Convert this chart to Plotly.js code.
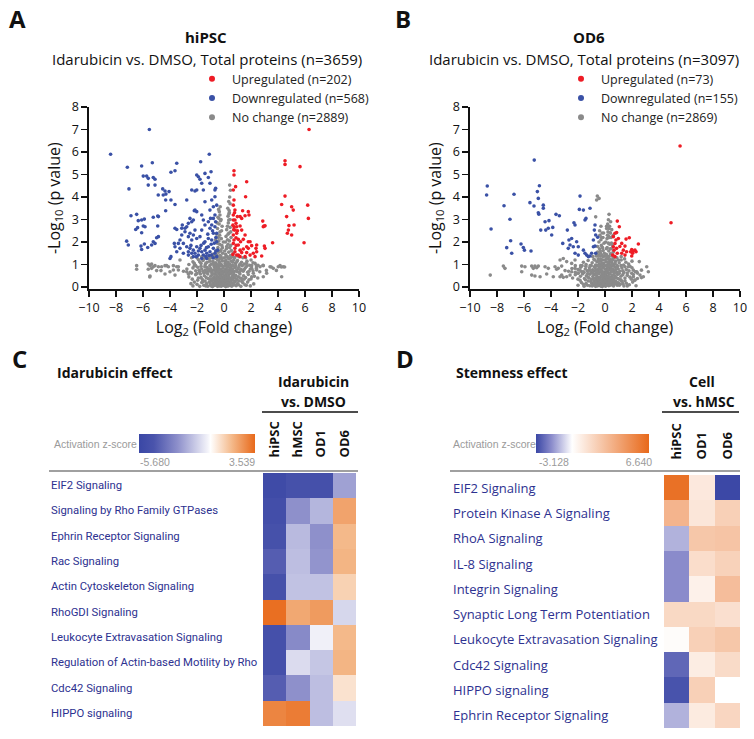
<!DOCTYPE html>
<html><head><meta charset="utf-8">
<script src="https://cdn.plot.ly/plotly-3.0.1.min.js"></script>
<style>html,body{margin:0;padding:0;background:#fff}#chart{width:754px;height:739px}</style>
</head><body><div id="chart"></div>
<script>
// ---------- Panel A: hiPSC volcano (log2 FC, -log10 p) ----------
const aUp = [[6.3,7.0],[4.52,5.61],[4.52,5.45],[5.63,5.35],[0.74,5.17],[0.74,4.98],[1.68,4.68],[0.86,4.46],[0.69,4.31],[1.6,4.01],[4.52,4.04],[4.27,3.67],[5.01,3.57],[5.13,3.42],[6.2,3.64],[6.25,3.05],[4.64,3.13],[5.19,2.76],[4.81,2.73],[4.77,2.53],[4.69,2.39],[5.01,2.31],[5.93,1.97],[2.87,2.93],[3.04,2.72],[2.91,2.68],[2.96,2.71],[3.6,1.97],[2.79,1.38],[2.42,1.87],[2.37,1.72],[2.99,1.82],[3.04,1.72],
[1.38,3.39],[1.8,3.35],[1.85,3.2],[1.56,3.17],[1.19,3.13],[1.31,3.05],[0.81,3.42],[0.69,3.2],[0.81,2.98],[1.19,2.71],[1.31,2.53],[0.94,2.39],[0.89,2.19],[1.06,2.12],[1.43,2.12],[1.8,2.01],[1.93,2.01],[2.05,1.84],[1.68,1.79],[1.43,1.69],[1.19,1.64],[0.81,1.57],[0.94,1.42],[1.31,1.53],[1.56,1.35],[1.93,1.42],[2.17,1.5],[2.3,1.35],[0.81,1.72],[0.69,1.94],[1.06,1.87],[0.81,2.53],[0.69,2.31],[0.74,2.09],[0.74,2.68],[0.89,2.83],[0.69,2.98],[0.99,3.13],[0.69,3.64],[0.74,3.87],[1.06,1.42],[1.19,1.35],[1.68,1.53],[1.23,2.01],[1.56,2.31],[0.94,2.68],[1.8,1.72],[2.42,1.57],[0.66,1.45],[0.72,2.55],[0.9,1.85],[0.66,2.75],[1.0,2.5],[0.78,3.3]];
const aDown = [[-8.4,5.9],[-5.53,7.0],[-7.16,5.32],[-6.1,5.38],[-5.31,5.52],[-5.73,4.93],[-5.61,4.83],[-5.98,4.93],[-5.24,4.87],[-5.11,4.79],[-5.61,4.53],[-5.11,4.53],[-3.5,5.5],[-3.63,5.17],[-3.93,5.1],[-7.04,4.36],[-4.54,4.36],[-4.37,4.27],[-4.07,4.24],[-4.3,4.13],[-4.87,4.09],[-4.5,4.09],[-3.93,3.87],[-4.32,3.87],[-3.63,3.67],[-4.32,3.39],[-4.91,3.16],[-5.24,3.1],
[-6.89,3.17],[-6.47,3.23],[-6.35,2.95],[-6.1,2.98],[-5.9,3.02],[-6.4,2.64],[-5.98,2.71],[-5.85,2.68],[-6.54,2.56],[-6.1,2.41],[-7.21,2.04],[-7.09,1.87],[-6.15,1.82],[-5.9,1.91],[-6.1,1.67],[-5.65,1.76],[-5.36,1.87],[-5.24,2.01],[-4.99,2.19],[-4.86,2.24],[-5.11,1.94],[-4.86,3.13],[-4.91,2.71],[-3.63,2.61],[-3.5,2.56],[-3.68,1.94],[-3.63,1.79],[-3.93,1.35],[-4.0,1.27],
[-3.13,2.61],[-3.09,2.76],[-2.89,2.61],[-2.76,3.87],[-2.39,4.31],[-2.15,4.27],[-2.02,4.31],[-2.2,3.39],[-2.02,3.35],[-2.52,3.05],[-2.27,2.98],[-2.39,2.9],[-2.64,2.83],[-2.76,2.68],[-2.89,2.46],[-2.52,2.39],[-2.64,2.24],[-2.27,2.31],[-2.15,2.53],[-2.39,2.09],[-2.02,2.16],[-1.78,2.24],[-3.13,2.31],[-3.26,2.09],[-3.01,1.94],[-2.76,1.79],[-2.52,1.72],[-2.27,1.64],[-2.15,1.5],[-1.9,1.42],[-2.39,1.5],[-2.64,1.57],[-2.02,1.79],[-1.78,1.72],[-1.65,1.57],[-1.53,1.42],[-1.41,1.64],[-1.28,1.5],[-1.16,1.79],[-1.04,1.57],[-0.91,1.42],[-0.79,1.72],[-0.67,1.5],[-1.41,2.01],[-1.16,2.16],[-0.91,2.09],[-0.79,2.39],[-1.04,2.61],[-0.91,2.76],[-0.67,2.68],[-1.16,2.9],[-0.79,3.05],[-0.67,3.2],[-1.04,3.42],[-0.79,3.57],[-0.54,3.64],[-0.91,3.87],[-0.67,4.01],[-0.67,4.31],[-0.62,4.39],[-1.04,4.61],[-1.9,4.9],[-1.78,4.79],[-1.65,4.61],[-2.02,4.98],[-1.41,5.05],[-0.96,5.12],[-1.16,4.87],[-1.73,5.57],[-1.09,5.9],[-1.53,4.31],[-1.41,3.79],[-2.15,3.42],[-1.65,3.2],[-1.53,2.98],[-1.41,2.76],[-1.65,2.53],[-0.54,2.39],[-0.54,2.01],[-0.47,1.64],[-0.54,1.35],[-1.65,1.27],[-1.28,1.27],[-2.27,1.35],[-2.64,1.42],[-3.01,1.5],[-3.5,1.57],[-3.26,1.72],[-3.38,1.94],
[-1.9,1.6],[-1.7,1.85],[-1.5,1.95],[-1.3,1.75],[-1.1,1.4],[-0.95,1.9],[-0.72,1.95],[-0.6,1.6],[-1.2,2.35],[-0.85,2.5],[-0.62,2.9],[-2.45,1.85],[-2.05,1.35],[-1.35,1.35],[-0.8,1.3],[-0.6,2.2],[-1.0,3.05]];
const aNoChange = [[-2.3,0.05],[-2.0,0.12],[-1.8,0.03],[-1.65,0.2],[-1.5,0.08],[-1.4,0.27],[-1.3,0.15],[-1.2,0.04],[-1.1,0.22],[-1.0,0.1],[-0.92,0.28],[-0.85,0.02],[-0.78,0.17],[-0.7,0.07],[-0.62,0.25],[-0.55,0.12],[-0.48,0.03],[-0.42,0.2],[-0.36,0.09],[-0.3,0.28],[-0.25,0.15],[-0.2,0.04],[-0.14,0.22],[-0.08,0.1],[-0.03,0.3],[0.02,0.06],[0.08,0.18],[0.13,0.02],[0.19,0.25],[0.25,0.11],[0.31,0.05],[0.37,0.2],[0.44,0.13],[0.5,0.28],[0.57,0.04],[0.64,0.17],[0.72,0.09],[0.8,0.24],[0.9,0.06],[1.0,0.15],[1.12,0.27],[1.25,0.03],[1.4,0.19],[1.55,0.1],[1.75,0.22],[1.95,0.05],[2.2,0.14],
[-2.6,0.45],[-2.35,0.35],[-2.1,0.55],[-1.9,0.4],[-1.75,0.58],[-1.6,0.33],[-1.45,0.5],[-1.32,0.42],[-1.2,0.58],[-1.08,0.36],[-0.98,0.48],[-0.88,0.55],[-0.8,0.38],[-0.72,0.45],[-0.64,0.57],[-0.57,0.34],[-0.5,0.5],[-0.43,0.42],[-0.37,0.6],[-0.3,0.36],[-0.24,0.52],[-0.17,0.44],[-0.1,0.58],[-0.04,0.38],[0.03,0.5],[0.1,0.33],[0.16,0.56],[0.22,0.45],[0.29,0.37],[0.36,0.54],[0.42,0.4],[0.49,0.6],[0.56,0.35],[0.63,0.48],[0.7,0.56],[0.78,0.4],[0.87,0.52],[0.96,0.34],[1.06,0.46],[1.18,0.58],[1.3,0.38],[1.45,0.5],[1.6,0.42],[1.8,0.56],[2.0,0.36],[2.25,0.48],[2.5,0.4],
[-3.0,0.7],[-2.75,0.8],[-2.5,0.65],[-2.3,0.85],[-2.1,0.72],[-1.95,0.88],[-1.8,0.68],[-1.65,0.8],[-1.5,0.62],[-1.38,0.76],[-1.25,0.87],[-1.12,0.7],[-1.0,0.82],[-0.9,0.64],[-0.8,0.75],[-0.7,0.88],[-0.62,0.67],[-0.54,0.8],[-0.46,0.72],[-0.38,0.86],[-0.3,0.63],[-0.22,0.78],[-0.15,0.7],[-0.07,0.85],[0.05,0.66],[0.12,0.8],[0.2,0.72],[0.27,0.88],[0.34,0.62],[0.41,0.76],[0.48,0.84],[0.55,0.68],[0.63,0.8],[0.72,0.65],[0.82,0.87],[0.92,0.73],[1.03,0.82],[1.15,0.64],[1.28,0.78],[1.42,0.7],[1.58,0.86],[1.75,0.66],[1.95,0.8],[2.15,0.72],[2.4,0.84],[2.65,0.68],
[-2.6,1.0],[-2.3,1.12],[-2.1,0.95],[-1.9,1.22],[-1.7,1.05],[-1.55,1.18],[-1.4,0.98],[-1.25,1.1],[-1.1,1.25],[-0.95,1.02],[-0.82,1.15],[-0.7,0.93],[-0.6,1.08],[-0.5,1.22],[-0.42,0.98],[-0.35,1.12],[-0.27,1.28],[-0.2,1.0],[-0.12,1.16],[0.08,1.05],[0.15,1.2],[0.22,0.95],[0.3,1.1],[0.38,1.25],[0.45,1.0],[0.53,1.15],[0.62,0.96],[0.72,1.2],[0.85,1.05],[1.0,1.18],[1.15,0.98],[1.3,1.1],[1.5,1.02],[1.7,1.15],[1.9,0.97],[2.15,1.08],[2.4,0.95],
[-1.0,1.32],[-0.85,1.45],[-0.7,1.38],[-0.6,1.6],[-0.52,1.42],[-0.45,1.75],[-0.4,1.55],[-0.33,1.9],[-0.28,1.4],[-0.22,1.65],[-0.16,1.85],[-0.1,1.5],[0.12,1.45],[0.18,1.7],[0.24,1.35],[0.3,1.9],[0.35,1.55],[0.42,1.75],[0.48,1.4],[0.55,1.62],[0.6,1.35],[0.68,1.5],[0.75,1.32],[1.1,1.35],[1.4,1.3],[-1.3,1.35],
[-0.62,2.1],[-0.55,2.35],[-0.48,2.6],[-0.42,2.2],[-0.36,2.8],[-0.3,2.45],[-0.25,2.95],[-0.2,2.15],[-0.14,2.7],[0.15,2.25],[0.2,2.55],[0.26,2.1],[0.32,2.85],[0.38,2.4],[0.45,2.65],[0.52,2.2],[0.35,2.98],
[-0.45,3.1],[-0.35,3.35],[-0.28,3.57],[-0.4,3.45],[0.3,3.15],[0.38,3.4],[0.45,3.7],[0.42,4.0],[0.48,4.3],[0.42,4.53],[0.36,3.25],
[-1.95,0.3],[-1.7,0.42],[-1.55,0.25],[-1.35,0.05],[-1.18,0.38],[-1.03,0.2],[-0.95,0.05],[-0.88,0.35],[-0.82,0.12],[-0.75,0.3],[-0.68,0.18],[-0.6,0.4],[-0.52,0.26],[-0.45,0.14],[-0.4,0.35],[-0.33,0.05],[-0.28,0.45],[-0.22,0.32],[-0.17,0.12],[-0.11,0.4],[-0.05,0.2],[0.0,0.42],[0.05,0.28],[0.1,0.12],[0.16,0.38],[0.22,0.05],[0.28,0.32],[0.34,0.44],[0.4,0.08],[0.46,0.36],[0.53,0.18],[0.6,0.42],[0.67,0.3],[0.75,0.12],[0.83,0.45],[0.95,0.3],[1.08,0.1],[1.2,0.4],[1.33,0.25],[1.48,0.35],[1.65,0.08],[1.85,0.32],[2.05,0.45],[-2.2,0.22],[-2.45,0.15],
[-2.4,0.62],[-2.2,0.95],[-2.0,0.6],[-1.85,0.75],[-1.7,0.92],[-1.55,0.7],[-1.42,0.9],[-1.3,0.65],[-1.18,0.78],[-1.05,0.95],[-0.95,0.72],[-0.85,0.6],[-0.75,0.95],[-0.66,0.78],[-0.58,0.92],[-0.5,0.66],[-0.42,0.9],[-0.34,0.75],[-0.26,0.95],[-0.18,0.62],[-0.1,0.92],[0.0,0.72],[0.08,0.95],[0.16,0.64],[0.24,0.9],[0.3,0.74],[0.38,0.98],[0.45,0.64],[0.52,0.92],[0.6,0.76],[0.68,0.94],[0.78,0.7],[0.88,0.95],[1.0,0.68],[1.1,0.88],[1.22,0.74],[1.35,0.95],[1.5,0.78],[1.68,0.92],[1.85,0.7],[2.05,0.95],
[-2.4,1.3],[-2.2,1.05],[-2.0,1.3],[-1.8,1.12],[-1.65,1.35],[-1.5,1.25],[-1.35,1.05],[-1.2,1.35],[-1.05,1.15],[-0.9,1.3],[-0.78,1.05],[-0.65,1.28],[-0.55,1.0],[-0.45,1.35],[-0.38,1.2],[-0.3,1.05],[-0.22,1.35],[-0.15,1.25],[0.02,1.3],[0.1,1.15],[0.2,1.35],[0.28,1.02],[0.35,1.28],[0.5,1.3],[0.65,1.1],[0.8,1.3],[0.95,1.12],[1.2,1.02],[1.6,1.3],[2.0,1.2],
[-0.5,1.95],[-0.38,2.05],[-0.32,2.3],[-0.25,1.6],[-0.18,2.5],[-0.12,1.75],[-0.05,2.0],[0.05,1.6],[0.1,2.0],[0.2,1.8],[0.25,2.7],[0.3,2.35],[0.4,2.05],[0.45,3.0],[0.5,1.85],[0.28,3.5],[0.35,3.8],[-0.3,3.2],[-0.22,3.0],[-0.5,2.85],[-0.38,3.05],[0.5,2.45],[0.4,3.3],
[-6.47,0.95],[-6.47,0.79],[-5.61,1.02],[-5.48,0.95],[-5.36,1.02],[-5.24,0.9],[-5.11,0.95],[-4.86,0.9],[-4.62,0.9],[-4.37,0.95],[-4.25,0.95],[-4.12,0.9],[-3.75,0.95],[-3.5,0.9],[-3.38,0.9],[-5.61,0.79],[-5.36,0.83],[-4.99,0.73],[-4.67,0.73],[-4.0,0.68],[-3.75,0.76],[-3.38,0.76],[-5.48,0.49],[-4.37,0.58],[-3.63,0.53],[-3.26,1.2],[-2.76,0.68],[-2.64,0.58],[-5.5,0.45],
[2.3,1.05],[2.67,0.9],[2.91,0.95],[2.42,0.76],[3.41,0.9],[4.02,0.9],[4.39,0.9],[4.27,0.46],[3.16,0.61],[3.65,0.83],[2.91,0.46],[2.05,0.83],[1.68,1.05],[4.15,0.95],[2.17,0.61],[2.52,0.97],[2.89,0.97],[3.14,0.74],[3.5,0.89],[3.88,0.74],[4.25,0.89],[4.49,0.89]];

// ---------- Panel B: OD6 volcano ----------
const bUp = [[5.56,6.27],[4.89,2.86],[0.91,2.93],[1.06,2.68],[0.74,2.39],[0.86,2.42],[0.62,2.24],[0.81,2.09],[0.99,2.16],[0.74,1.94],[0.62,1.79],[0.86,1.72],[0.67,1.64],[0.57,1.42],[0.74,1.35],[0.91,1.5],[1.56,2.13],[1.8,2.19],[1.24,1.94],[1.48,1.82],[1.36,1.64],[1.6,1.57],[1.24,1.5],[1.48,1.42],[2.47,1.91],[1.98,1.67],[2.1,1.6],[2.22,1.64],[2.05,1.5],[1.98,1.38],[2.3,1.57],[1.9,1.57],[1.1,1.8]];
const bDown = [[-5.24,5.64],[-8.72,4.49],[-8.77,4.09],[-4.86,4.5],[-5.01,4.24],[-4.94,3.94],[-5.56,3.75],[-5.26,3.6],[-4.57,3.64],[-4.57,3.5],[-6.74,4.12],[-7.48,3.61],[-7.04,3.01],[-8.44,2.58],[-4.94,3.3],[-4.9,3.24],[-3.63,3.23],[-3.38,3.17],[-4.15,2.95],[-4.44,2.9],[-4.76,2.53],[-4.39,2.53],[-3.87,2.65],[-3.95,2.31],[-4.2,2.61],[-2.79,2.53],[-6.99,2.06],[-7.28,1.75],[-6.91,1.5],[-6.22,1.91],[-6.05,1.76],[-5.97,1.64],[-5.48,1.6],[-3.13,1.94],[-2.67,2.09],[-2.47,2.16],[-2.59,1.87],[-2.35,1.79],[-2.72,1.72],[-2.1,2.01],[-1.98,1.79],[-2.3,2.86],[-2.22,2.76],[-1.9,3.45],[-1.6,3.42],[-1.11,3.5],[-1.85,4.04],[-1.41,3.05],[-1.48,2.98],[-0.74,2.76],[-0.79,2.53],[-0.69,2.31],[-0.54,2.21],[-0.86,1.79],[-0.74,1.82],[-0.86,2.09],[-1.6,1.64],[-1.48,1.5],[-1.36,1.42],[-1.11,1.38],[-1.23,1.35],[-0.99,1.5],[-2.22,1.5],[-1.98,1.42],[-0.69,1.5]];
const bNoChange = [[-2.0,0.08],[-1.75,0.2],[-1.55,0.04],[-1.4,0.15],[-1.25,0.27],[-1.12,0.06],[-1.0,0.18],[-0.9,0.1],[-0.8,0.25],[-0.7,0.03],[-0.62,0.14],[-0.55,0.22],[-0.47,0.07],[-0.4,0.3],[-0.33,0.12],[-0.27,0.2],[-0.2,0.02],[-0.14,0.26],[-0.08,0.09],[-0.02,0.17],[0.04,0.04],[0.1,0.28],[0.16,0.13],[0.22,0.21],[0.28,0.06],[0.34,0.16],[0.41,0.27],[0.48,0.1],[0.55,0.2],[0.63,0.05],[0.71,0.15],[0.8,0.25],[0.9,0.08],[1.0,0.19],[1.12,0.12],[1.25,0.26],[1.4,0.05],[1.58,0.17],[1.8,0.1],[2.05,0.22],[2.3,0.06],
[-2.4,0.4],[-2.2,0.55],[-2.0,0.35],[-1.82,0.48],[-1.66,0.58],[-1.52,0.38],[-1.38,0.5],[-1.25,0.44],[-1.12,0.57],[-1.0,0.34],[-0.9,0.47],[-0.8,0.56],[-0.7,0.39],[-0.62,0.5],[-0.54,0.43],[-0.46,0.59],[-0.38,0.35],[-0.3,0.48],[-0.23,0.55],[-0.16,0.4],[-0.09,0.52],[-0.02,0.44],[0.05,0.58],[0.12,0.36],[0.19,0.49],[0.26,0.42],[0.33,0.57],[0.4,0.33],[0.47,0.46],[0.55,0.53],[0.63,0.37],[0.72,0.5],[0.82,0.42],[0.93,0.56],[1.05,0.35],[1.18,0.48],[1.32,0.55],[1.48,0.4],[1.65,0.52],[1.85,0.44],[2.1,0.56],[2.4,0.38],[2.7,0.42],
[-2.7,0.7],[-2.45,0.82],[-2.2,0.66],[-2.0,0.78],[-1.8,0.88],[-1.62,0.68],[-1.46,0.8],[-1.3,0.72],[-1.16,0.86],[-1.03,0.64],[-0.92,0.77],[-0.82,0.7],[-0.72,0.85],[-0.63,0.62],[-0.55,0.74],[-0.46,0.82],[-0.38,0.66],[-0.3,0.8],[-0.22,0.72],[-0.14,0.88],[-0.06,0.65],[0.04,0.78],[0.11,0.7],[0.18,0.86],[0.25,0.63],[0.32,0.76],[0.4,0.84],[0.48,0.68],[0.56,0.8],[0.65,0.72],[0.75,0.88],[0.86,0.66],[0.98,0.8],[1.1,0.7],[1.25,0.85],[1.4,0.65],[1.58,0.78],[1.78,0.72],[2.0,0.86],[2.25,0.68],
[-1.8,0.95],[-1.6,1.1],[-1.4,1.0],[-1.25,1.18],[-1.1,0.96],[-0.95,1.08],[-0.82,1.22],[-0.7,0.98],[-0.6,1.12],[-0.5,1.26],[-0.42,1.02],[-0.34,1.15],[-0.26,0.94],[-0.18,1.2],[-0.1,1.05],[0.08,1.12],[0.15,0.97],[0.22,1.25],[0.29,1.06],[0.36,1.18],[0.43,0.95],[0.5,1.1],[0.58,1.22],[0.67,1.0],[0.78,1.15],[0.9,0.96],[1.05,1.08],[1.2,1.2],[1.38,0.98],[1.55,1.1],[1.75,1.02],[2.0,1.15],
[-0.65,1.38],[-0.55,1.55],[-0.47,1.42],[-0.4,1.7],[-0.33,1.5],[-0.27,1.85],[-0.2,1.4],[-0.14,1.62],[-0.07,1.95],[0.1,1.45],[0.16,1.75],[0.22,1.35],[0.28,1.6],[0.34,1.9],[0.4,1.48],[0.46,1.7],[0.52,1.38],[0.6,1.55],[0.7,1.35],[0.48,1.95],
[-0.3,2.1],[-0.22,2.4],[-0.15,2.2],[-0.38,2.3],[0.15,2.15],[0.22,2.45],[0.28,2.25],[0.34,2.7],[0.4,2.4],[0.12,2.6],[0.25,2.99],[0.37,2.41],[0.12,2.7],[0.3,3.23],[-0.69,3.12],[-0.57,4.04],[-0.44,3.94],[-0.62,3.87],[0.45,2.2],[0.5,2.55],
[-1.85,0.3],[-1.6,0.12],[-1.45,0.32],[-1.3,0.08],[-1.18,0.4],[-1.05,0.25],[-0.95,0.05],[-0.85,0.38],[-0.76,0.15],[-0.67,0.3],[-0.58,0.05],[-0.5,0.34],[-0.43,0.18],[-0.36,0.42],[-0.3,0.04],[-0.24,0.3],[-0.18,0.45],[-0.11,0.15],[-0.05,0.35],[0.01,0.25],[0.07,0.45],[0.13,0.08],[0.19,0.33],[0.25,0.45],[0.31,0.28],[0.37,0.08],[0.44,0.4],[0.51,0.25],[0.59,0.4],[0.67,0.26],[0.76,0.4],[0.85,0.2],[0.95,0.38],[1.06,0.08],[1.18,0.32],[1.32,0.15],[1.48,0.28],[1.65,0.05],[1.95,0.35],[2.2,0.3],
[-2.2,0.95],[-2.0,0.62],[-1.85,0.75],[-1.7,0.95],[-1.55,0.65],[-1.42,0.92],[-1.28,0.6],[-1.15,0.75],[-1.02,0.95],[-0.9,0.62],[-0.8,0.9],[-0.68,0.75],[-0.58,0.95],[-0.5,0.62],[-0.41,0.9],[-0.33,0.7],[-0.26,0.98],[-0.18,0.65],[-0.1,0.85],[-0.02,0.95],[0.06,0.62],[0.14,0.92],[0.21,0.76],[0.29,0.96],[0.36,0.6],[0.44,0.9],[0.52,0.74],[0.6,0.95],[0.7,0.62],[0.8,0.78],[0.92,0.9],[1.05,0.6],[1.18,0.95],[1.32,0.72],[1.48,0.9],[1.65,0.62],[1.85,0.92],[2.1,0.75],[2.4,0.62],[2.7,0.75],
[-0.9,1.35],[-0.75,1.2],[-0.6,1.4],[-0.48,1.15],[-0.38,1.38],[-0.3,1.25],[-0.22,1.05],[-0.12,1.35],[0.0,1.2],[0.05,1.4],[0.12,1.28],[0.2,1.1],[0.3,1.35],[0.4,1.22],[0.5,1.0],[0.62,1.3],[0.75,1.05],[0.88,1.3],[1.0,1.2],[1.2,1.35],[1.45,1.25],
[-0.55,1.8],[-0.45,2.0],[-0.35,1.6],[-0.25,2.2],[-0.18,1.75],[-0.1,2.4],[-0.05,1.5],[0.05,2.0],[0.1,1.7],[0.18,2.3],[0.25,1.95],[0.32,2.2],[0.38,1.7],[0.42,2.9],[0.3,2.6],[0.2,2.8],[-0.3,2.7],[-0.4,2.5],[0.55,1.85],[0.6,2.3],
[-7.53,0.93],[-7.41,0.83],[-8.5,0.53],[-6.17,0.93],[-5.93,0.9],[-5.43,0.93],[-5.19,0.93],[-4.94,0.93],[-5.31,0.83],[-5.06,0.86],[-4.44,0.9],[-4.2,0.83],[-3.7,0.9],[-3.58,0.79],[-6.17,0.68],[-5.19,0.49],[-4.81,0.46],[-5.43,0.53],[-4.32,0.58],[-3.83,0.46],[-3.33,0.46],[-3.21,0.53],[-3.09,0.43],[-2.84,0.46],[-2.59,0.53],[-3.46,0.83],[-3.21,0.93],[-2.96,0.73],[-2.47,0.68],[-2.22,0.83],[-1.98,0.61],[-1.73,0.68],[-2.47,1.05],[-3.33,1.2],[-3.09,1.27],[-2.84,1.13],[-2.22,1.2],
[3.09,0.9],[3.21,0.68],[2.84,0.46],[2.59,0.53],[2.35,0.68],[2.54,1.13],[2.1,0.46],[2.22,0.31],[1.98,0.61],[1.73,0.9]];

// ---------- Panel C: IPA activation z-scores, Idarubicin vs DMSO ----------
const cPathways = ['EIF2 Signaling','Signaling by Rho Family GTPases','Ephrin Receptor Signaling','Rac Signaling','Actin Cytoskeleton Signaling','RhoGDI Signaling','Leukocyte Extravasation Signaling','Regulation of Actin-based Motility by Rho','Cdc42 Signaling','HIPPO signaling'];
const cCells = ['hiPSC','hMSC','OD1','OD6'];
const cZ = [[-5.3,-4.8,-4.9,-2.2],[-5.0,-2.6,-1.7,2.2],[-4.8,-1.6,-2.6,1.7],[-4.2,-1.5,-2.5,1.8],[-4.8,-1.4,-1.4,1.1],[3.4,2.1,2.4,-0.9],[-4.9,-2.8,-0.3,1.7],[-4.9,-0.8,-1.3,1.8],[-4.2,-2.6,-1.5,0.7],[2.9,3.1,-1.5,-0.7]];
const cRange = [-5.680, 3.539];

// ---------- Panel D: IPA activation z-scores, cell vs hMSC ----------
const dPathways = ['EIF2 Signaling','Protein Kinase A Signaling','RhoA Signaling','IL-8 Signaling','Integrin Signaling','Synaptic Long Term Potentiation','Leukocyte Extravasation Signaling','Cdc42 Signaling','HIPPO signaling','Ephrin Receptor Signaling'];
const dCells = ['hiPSC','OD1','OD6'];
const dZ = [[6.3,1.0,-3.1],[3.3,1.1,2.1],[-1.2,2.5,2.6],[-1.8,1.5,2.0],[-1.8,0.6,2.9],[1.7,1.7,1.4],[0.15,2.1,2.5],[-2.5,0.8,1.6],[-2.9,2.1,null],[-1.2,0.9,1.8]];
const dRange = [-3.128, 6.640];

// ---------- helpers ----------
const W = 754, H = 739;
const px = v => v / W, py = v => 1 - v / H;
const F = 'Open Sans, Noto Sans, sans-serif';
const RED = '#ee1c25', BLUE = '#3a51a6', GRAY = '#8a8a8a';

function pts(arr, color, xa, ya, grp, leg) {
  return {type:'scatter', mode:'markers', x: arr.map(p=>p[0]), y: arr.map(p=>p[1]),
    xaxis: xa, yaxis: ya, marker:{color: color, size: 3.6}, showlegend:false,
    legendgroup: grp, legend: leg, hoverinfo:'x+y'};
}
function legItem(name, color, xa, ya, grp, leg, rank) {
  return {type:'scatter', mode:'markers', x:[null], y:[null], xaxis:xa, yaxis:ya,
    marker:{color: color, size: 6}, name: name, legendgroup: grp, legend: leg, legendrank: rank};
}

function cscale(range, stops) {
  const span = range[1]-range[0];
  return stops.map(s => [(s[0]-range[0])/span, s[1]]);
}
const cScale = cscale(cRange, [[-5.68,'#3a47a5'],[-4.5,'#4a54ac'],[-2.6,'#8e90cb'],[-0.2,'#f4f4fa'],[0,'#ffffff'],[1.7,'#f4b98a'],[3.539,'#e8691a']]);
const dScale = cscale(dRange, [[-3.128,'#3a47a5'],[-1.8,'#8a8bcb'],[0,'#ffffff'],[6.64,'#e8691a']]);

const CBFONT = {family:'Liberation Sans, Arial', size:10.5, color:'#9a9a9a'};
const data = [
  pts(aNoChange, GRAY, 'x', 'y', 'aNC', 'legend'),
  pts(aDown, BLUE, 'x', 'y', 'aDown', 'legend'),
  pts(aUp, RED, 'x', 'y', 'aUp', 'legend'),
  legItem('Upregulated (n=202)', RED, 'x', 'y', 'aUp', 'legend', 1),
  legItem('Downregulated (n=568)', BLUE, 'x', 'y', 'aDown', 'legend', 2),
  legItem('No change (n=2889)', GRAY, 'x', 'y', 'aNC', 'legend', 3),
  pts(bNoChange, GRAY, 'x2', 'y2', 'bNC', 'legend2'),
  pts(bDown, BLUE, 'x2', 'y2', 'bDown', 'legend2'),
  pts(bUp, RED, 'x2', 'y2', 'bUp', 'legend2'),
  legItem('Upregulated (n=73)', RED, 'x2', 'y2', 'bUp', 'legend2', 1),
  legItem('Downregulated (n=155)', BLUE, 'x2', 'y2', 'bDown', 'legend2', 2),
  legItem('No change (n=2869)', GRAY, 'x2', 'y2', 'bNC', 'legend2', 3),
  {type:'heatmap', x:cCells, y:cPathways, z:cZ, xaxis:'x3', yaxis:'y3', zmin:cRange[0], zmax:cRange[1],
   colorscale:cScale, showlegend:false, hoverongaps:false,
   colorbar:{orientation:'h', x:px(197), xanchor:'center', y:py(434), yanchor:'top', len:116/W, lenmode:'fraction',
     thickness:19, outlinewidth:0, xpad:0, ypad:0, ticks:'', ticklen:0,
     tickvals:[-4.41, 2.51], ticktext:['-5.680','3.539'], tickfont:CBFONT}},
  {type:'heatmap', x:dCells, y:dPathways, z:dZ, xaxis:'x4', yaxis:'y4', zmin:dRange[0], zmax:dRange[1],
   colorscale:dScale, showlegend:false, hoverongaps:false,
   colorbar:{orientation:'h', x:px(592.5), xanchor:'center', y:py(434), yanchor:'top', len:113/W, lenmode:'fraction',
     thickness:19, outlinewidth:0, xpad:0, ypad:0, ticks:'', ticklen:0,
     tickvals:[-1.572, 5.776], ticktext:['-3.128','6.640'], tickfont:CBFONT}}
];

const volcX = (dom, anchor) => ({domain: dom, anchor: anchor, range:[-10,10], tick0:-10, dtick:2,
  showline:true, linewidth:1.6, linecolor:'#111', ticks:'outside', ticklen:6, tickwidth:1.6, tickcolor:'#111',
  showgrid:false, zeroline:false, tickfont:{family:F, size:12.5, color:'#111'}, fixedrange:true,
  title:{text:'Log<sub>2</sub> (Fold change)', font:{family:F, size:16, color:'#111'}, standoff:4}});
const volcY = (dom, anchor) => ({domain: dom, anchor: anchor, range:[-0.1,8], tick0:0, dtick:1,
  showline:true, linewidth:1.6, linecolor:'#111', ticks:'outside', ticklen:6, tickwidth:1.6, tickcolor:'#111',
  showgrid:false, zeroline:false, tickfont:{family:F, size:12.5, color:'#111'}, fixedrange:true,
  title:{text:'-Log<sub>10</sub> (p value)', font:{family:F, size:16, color:'#111'}, standoff:7}});
const heatX = (dom, anchor) => ({domain: dom, anchor: anchor, side:'top', type:'category', tickangle:-90,
  ticks:'outside', ticklen:12, tickcolor:'rgba(0,0,0,0)', showline:false, showgrid:false, zeroline:false,
  tickfont:{family:F, size:13, color:'#111', weight:700}, fixedrange:true});
const heatY = (dom, anchor) => ({domain: dom, anchor: anchor, type:'category', autorange:'reversed',
  showticklabels:false, ticks:'', showline:false, showgrid:false, zeroline:false, fixedrange:true});

const ann = [];
function t(text, x, y, size, opts) {
  ann.push(Object.assign({text:text, x:px(x), y:py(y), xref:'paper', yref:'paper', showarrow:false,
    xanchor:'center', yanchor:'middle', font:{family:F, size:size, color:'#111'}}, opts||{}));
}
t('<b>A</b>', 17, 19, 24);
t('<b>B</b>', 403, 19, 24);
t('<b>C</b>', 19, 358, 24);
t('<b>D</b>', 405, 358, 24);
t('<b>hiPSC</b>', 206, 37, 15);
t('Idarubicin vs. DMSO, Total proteins (n=3659)', 207, 59, 15);
t('<b>OD6</b>', 589, 37, 15);
t('Idarubicin vs. DMSO, Total proteins (n=3097)', 584, 59, 15);
t('<b>Idarubicin effect</b>', 55, 372, 14, {xanchor:'left'});
t('<b>Stemness effect</b>', 454, 372, 14, {xanchor:'left'});
t('<b>Idarubicin</b>', 313, 381, 14);
t('<b>vs. DMSO</b>', 313, 402, 14);
t('<b>Cell</b>', 702, 381, 14);
t('<b>vs. hMSC</b>', 704, 402, 14);
t('Activation z-score', 52, 444, 10.5, {xanchor:'left', font:CBFONT});
t('Activation z-score', 451, 444, 10.5, {xanchor:'left', font:CBFONT});
cPathways.forEach((p,i) => ann.push({text:p, x:px(49), xref:'paper', y:i, yref:'y3', xanchor:'left', yanchor:'middle',
  showarrow:false, font:{family:'Roboto, Open Sans', size:11.3, color:'#2d3190'}}));
dPathways.forEach((p,i) => ann.push({text:p, x:px(451), xref:'paper', y:i, yref:'y4', xanchor:'left', yanchor:'middle',
  showarrow:false, font:{family:F, size:13, color:'#2d3190'}}));

const line = (x0,y0,x1,y1,color,w) => ({type:'line', xref:'paper', yref:'paper', x0:px(x0), y0:py(y0), x1:px(x1), y1:py(y1), line:{color:color, width:w}});

const LEGFONT = {family:F, size:12.5, color:'#222'};
const layout = {
  width: W, height: H, margin:{l:0,r:0,t:0,b:0}, paper_bgcolor:'#fff', plot_bgcolor:'rgba(0,0,0,0)',
  font:{family:F, color:'#111'},
  xaxis: volcX([px(89), px(359)], 'y'),
  yaxis: volcY([py(289.3), py(107)], 'x'),
  xaxis2: volcX([px(470), px(740)], 'y2'),
  yaxis2: volcY([py(289.3), py(107)], 'x2'),
  xaxis3: heatX([px(263), px(356)], 'y3'),
  yaxis3: heatY([py(726), py(473)], 'x3'),
  xaxis4: heatX([px(664), px(740)], 'y4'),
  yaxis4: heatY([py(728), py(475)], 'x4'),
  legend: {x:px(192), xanchor:'left', y:py(64), yanchor:'top', bgcolor:'rgba(0,0,0,0)', borderwidth:0,
    font:LEGFONT, itemsizing:'trace', tracegroupgap:0},
  legend2: {x:px(561), xanchor:'left', y:py(64), yanchor:'top', bgcolor:'rgba(0,0,0,0)', borderwidth:0,
    font:LEGFONT, itemsizing:'trace', tracegroupgap:0},
  annotations: ann,
  shapes: [
    line(262,412,358,412,'#111',1.6),
    line(662,412,739,412,'#111',1.6),
    line(49,471,358,471,'#a0a0a0',2),
    line(450,471,740,471,'#a0a0a0',2)
  ]
};

Plotly.newPlot('chart', data, layout, {displayModeBar:false, staticPlot:true});
</script></body></html>
